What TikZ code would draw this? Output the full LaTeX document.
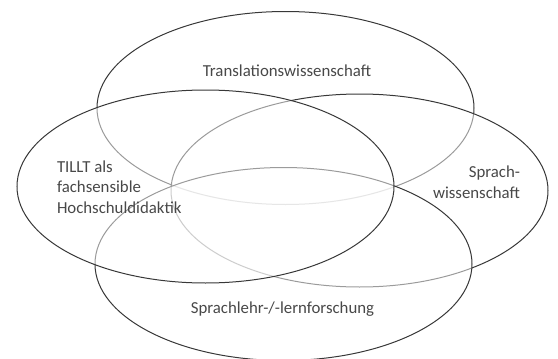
\documentclass[tikz,border=0pt]{standalone}
\usepackage{fontspec}
\setmainfont{Carlito}
\usetikzlibrary{shapes.geometric}
\definecolor{linegray}{HTML}{383838}
\definecolor{textgray}{HTML}{484848}
\begin{document}
\begin{tikzpicture}[x=1pt,y=-1pt]
\tikzstyle{every node}=[inner sep=0pt,outer sep=0pt]
\tikzstyle{field}=[ellipse,draw=linegray,line width=1pt,fill=white,fill opacity=0.5,minimum width=377pt,minimum height=193pt]
\tikzstyle{lbl}=[text=textgray,font=\fontsize{16.8}{20.5}\selectfont]
\useasboundingbox (0,0) rectangle (558,359);
\node[field](e0) at (285.5,108) {};
\node[field](e1) at (359.5,190.5) {};
\node[field](e2) at (283.5,264) {};
\node[field](e3) at (205.5,186.5) {};
\node[lbl,anchor=base](t0) at (287,76) {Translationswissenschaft};
\node[lbl,anchor=base west,align=left](t1) at (57,213) {TILLT als\\fachsensible\\Hochschuldidaktik};
\node[lbl,anchor=base east,align=right](t2) at (520,198) {Sprach-\\wissenschaft};
\node[lbl,anchor=base](t3) at (282.5,313) {Sprachlehr-/-lernforschung};
\end{tikzpicture}
\end{document}
